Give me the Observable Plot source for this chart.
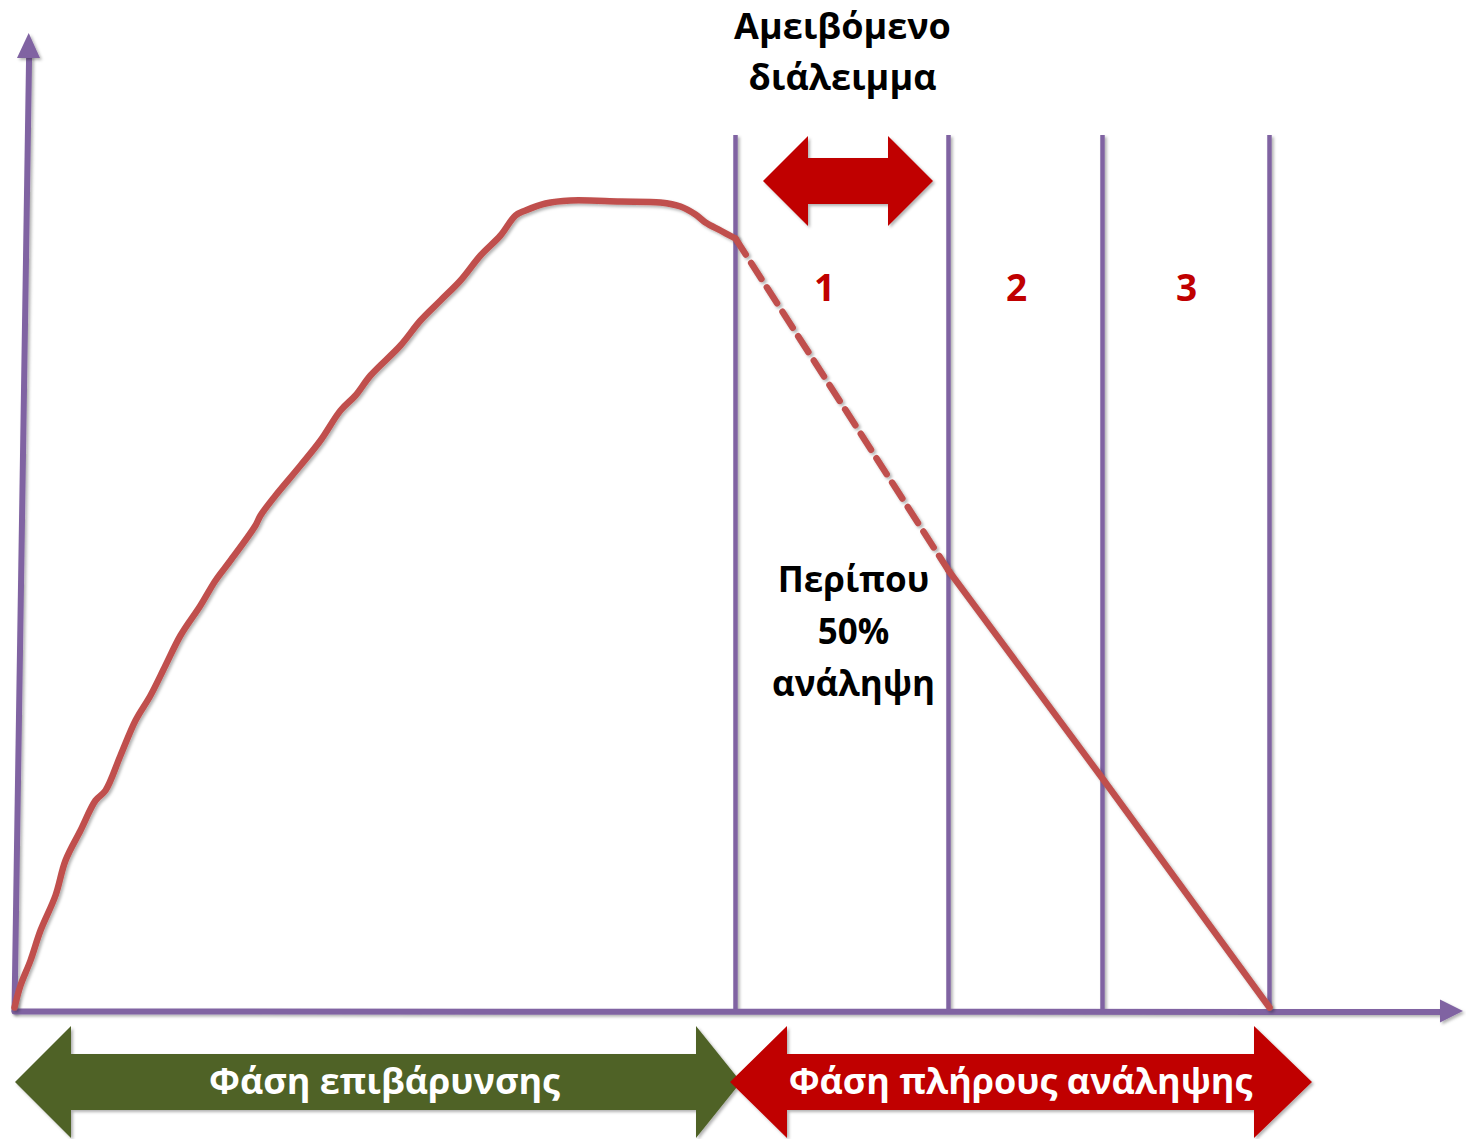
<!DOCTYPE html>
<html>
<head>
<meta charset="utf-8">
<script src="https://cdn.jsdelivr.net/npm/d3@7"></script>
<script src="https://cdn.jsdelivr.net/npm/@observablehq/plot@0.6"></script>
<style>
  html, body { margin: 0; padding: 0; background: #fff; }
  #chart svg { display: block; }
</style>
</head>
<body>
<div id="chart"></div>
<script>
// ---- Data (x: time units from origin, y: load units above the axis) ----
const loadX = [0, 6, 16, 26, 41, 51, 66, 81, 91, 106, 121, 136, 151, 166, 186, 201, 216, 241, 246, 261, 286, 306, 326, 341, 356, 386, 406, 426, 446, 466, 486, 501, 511, 531, 556, 606, 646, 666, 681, 691, 706, 721];
const loadY = [3, 25, 50, 80, 115, 150, 180, 210, 220, 255, 290, 315, 345, 375, 405, 430, 450, 485, 495, 515, 545, 570, 600, 615, 635, 665, 690, 710, 730, 755, 775, 795, 800, 807, 810, 809, 808, 804, 796, 788, 780, 772];
const restX = [721, 934];          // paid break (dashed)
const restY = [772, 440];
const recoveryX = [934, 1088, 1255]; // full recovery (solid)
const recoveryY = [440, 232, 3];
const boundaries = [721, 934, 1088, 1255];
const boundaryTop = 875;
const stageLabels = ["1", "2", "3"];
const stageX = [810, 1002, 1172];
const phaseNames = ["Φάση επιβάρυνσης", "Φάση πλήρους ανάληψης"];
const phaseStart = [1, 716];
const phaseEnd = [727, 1298];
const phaseCenter = [370, 1006];
const breakStart = 749, breakEnd = 919;
const titleText = "Αμειβόμενο\nδιάλειμμα";
const noteText = "Περίπου\n50%\nανάληψη";

// ---- Styles ----
const PURPLE = "#8064A2", CURVE = "#C0504D", GREEN = "#4F6228", RED = "#C00000";
const FONT = "'Open Sans', 'DejaVu Sans', sans-serif";
const headLeft = [56, 57], headRight = [45, 58];

// build double-headed arrow outline as an area (x, y1, y2)
function doubleArrow(id, x0, x1, cy, hL, hR, halfH, halfS) {
  return [
    {id, x: x0, y1: cy, y2: cy},
    {id, x: x0 + hL, y1: cy - halfH, y2: cy + halfH},
    {id, x: x0 + hL, y1: cy - halfS, y2: cy + halfS},
    {id, x: x1 - hR, y1: cy - halfS, y2: cy + halfS},
    {id, x: x1 - hR, y1: cy - halfH, y2: cy + halfH},
    {id, x: x1, y1: cy, y2: cy}
  ];
}

const curve = loadX.map((x, i) => ({x, y: loadY[i]}));
const rest = restX.map((x, i) => ({x, y: restY[i]}));
const recovery = recoveryX.map((x, i) => ({x, y: recoveryY[i]}));

const phaseShapes = phaseNames.flatMap((n, i) => doubleArrow(n, phaseStart[i], phaseEnd[i], -72, headLeft[i], headRight[i], 56, 28));
const phaseFill = [GREEN, RED];
const breakShape = doubleArrow("break", breakStart, breakEnd, 829, 45, 45, 45, 23);

const yAxisLine = [{x: 0, y: 0}, {x: 14.6, y: 954}];
const yAxisHead = [{y: 952, x1: 3, x2: 26}, {y: 977, x1: 14.7, x2: 14.7}];
const xAxisLine = [{x: 0, y: -1}, {x: 1428, y: -1.5}];
const xAxisHead = [{x: 1426, y1: -12.5, y2: 10.5}, {x: 1449, y1: -1, y2: -1}];

const svg = Plot.plot({
  width: 1466,
  height: 1139,
  margin: 0,
  x: {domain: [-14, 1452], axis: null},
  y: {domain: [-129, 1010], axis: null},
  style: {background: "white", fontFamily: FONT},
  marks: [
    // boundaries
    Plot.ruleX(boundaries, {x: d => d, y1: 0, y2: boundaryTop, stroke: PURPLE, strokeWidth: 4.5}),
    // axes
    Plot.line(yAxisLine, {x: "x", y: "y", stroke: PURPLE, strokeWidth: 6}),
    Plot.areaX(yAxisHead, {y: "y", x1: "x1", x2: "x2", fill: PURPLE}),
    Plot.line(xAxisLine, {x: "x", y: "y", stroke: PURPLE, strokeWidth: 6}),
    Plot.areaY(xAxisHead, {x: "x", y1: "y1", y2: "y2", fill: PURPLE}),
    // load curve
    Plot.line(curve, {x: "x", y: "y", stroke: CURVE, strokeWidth: 6.5, curve: "catmull-rom", strokeLinejoin: "round", strokeLinecap: "round"}),
    Plot.line(rest, {x: "x", y: "y", stroke: CURVE, strokeWidth: 6.5, strokeDasharray: "19,10"}),
    Plot.line(recovery, {x: "x", y: "y", stroke: CURVE, strokeWidth: 6.5, strokeLinejoin: "round"}),
    // break arrow
    Plot.areaY(breakShape, {x: "x", y1: "y1", y2: "y2", fill: RED}),
    // phase arrows
    Plot.areaY(phaseShapes, {x: "x", y1: "y1", y2: "y2", z: "id", fill: d => phaseFill[phaseNames.indexOf(d.id)]}),
    Plot.text(phaseNames, {x: (d, i) => phaseCenter[i], y: -72, text: d => d, fill: "white", fontSize: 36, fontWeight: "bold", fontFamily: FONT}),
    // stage numbers
    Plot.text(stageLabels, {x: (d, i) => stageX[i], y: 721, text: d => d, fill: RED, fontSize: 37, fontWeight: "bold", fontFamily: FONT}),
    // title & note
    Plot.text([titleText], {x: 828, y: 962, text: d => d, fill: "black", fontSize: 36, fontWeight: "bold", lineHeight: 1.42, fontFamily: FONT}),
    Plot.text([noteText], {x: 839, y: 383, text: d => d, fill: "black", fontSize: 35, fontWeight: "bold", lineHeight: 1.49, fontFamily: FONT})
  ]
});

// subtle drop shadow like the original graphic
const ns = "http://www.w3.org/2000/svg";
const defs = document.createElementNS(ns, "defs");
defs.innerHTML = '<filter id="shd" filterUnits="userSpaceOnUse" x="0" y="0" width="1466" height="1139"><feDropShadow dx="2" dy="2" stdDeviation="1.5" flood-color="#000" flood-opacity="0.3"/></filter>';
svg.insertBefore(defs, svg.firstChild);
svg.querySelectorAll('g[aria-label="line"], g[aria-label="rule"], g[aria-label="area"]').forEach(g => g.setAttribute("filter", "url(#shd)"));

document.getElementById("chart").appendChild(svg);
</script>
</body>
</html>
